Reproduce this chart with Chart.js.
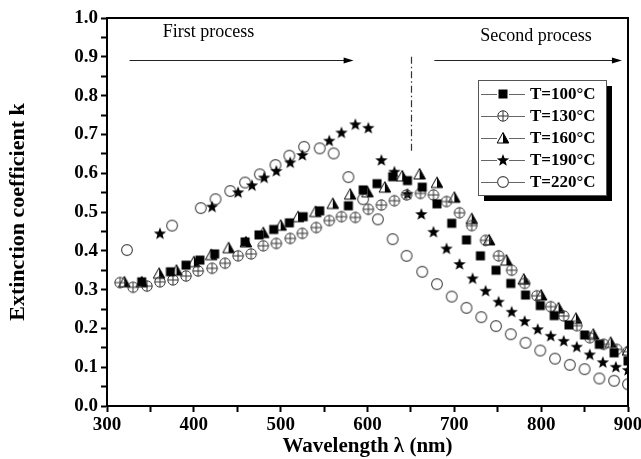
<!DOCTYPE html>
<html>
<head>
<meta charset="utf-8">
<script src="https://cdn.jsdelivr.net/npm/chart.js@4/dist/chart.umd.min.js"></script>
<style>
  html, body { margin: 0; padding: 0; background: #fff; }
</style>
</head>
<body>
<canvas id="kChart" width="641" height="459"></canvas>
<script>
// extinction coefficient k vs wavelength, one pair of arrays per annealing temperature
let wl100 = [340, 373, 391, 407, 424, 459, 475, 492, 510, 526, 545, 578, 595, 611, 629, 646, 663, 680, 697, 714, 730, 748, 765, 782, 799, 815, 832, 850, 867, 884, 900];
let k100  = [0.320, 0.346, 0.363, 0.376, 0.392, 0.423, 0.441, 0.455, 0.472, 0.488, 0.503, 0.516, 0.557, 0.573, 0.591, 0.581, 0.564, 0.521, 0.471, 0.428, 0.387, 0.350, 0.316, 0.286, 0.259, 0.233, 0.209, 0.183, 0.159, 0.137, 0.116];

let wl130 = [315, 330, 346, 361, 376, 391, 405, 421, 436, 451, 466, 480, 495, 511, 525, 541, 556, 570, 586, 601, 616, 631, 645, 661, 676, 691, 706, 720, 736, 751, 766, 781, 795, 811, 826, 841, 856, 872, 887, 900];
let k130  = [0.318, 0.306, 0.309, 0.320, 0.325, 0.335, 0.348, 0.355, 0.368, 0.387, 0.392, 0.413, 0.419, 0.432, 0.445, 0.460, 0.478, 0.488, 0.486, 0.507, 0.518, 0.529, 0.544, 0.548, 0.544, 0.527, 0.498, 0.465, 0.427, 0.387, 0.350, 0.316, 0.284, 0.256, 0.232, 0.207, 0.176, 0.159, 0.146, 0.140];

let wl160 = [320, 340, 360, 380, 400, 420, 440, 460, 480, 500, 520, 540, 560, 580, 600, 620, 640, 660, 680, 700, 720, 740, 760, 780, 800, 820, 840, 860, 880, 900];
let k160  = [0.320, 0.320, 0.342, 0.350, 0.372, 0.390, 0.408, 0.423, 0.447, 0.466, 0.488, 0.501, 0.522, 0.546, 0.552, 0.564, 0.593, 0.598, 0.576, 0.538, 0.483, 0.428, 0.376, 0.327, 0.286, 0.253, 0.226, 0.185, 0.164, 0.144];

let wl190 = [361, 421, 451, 467, 481, 495, 511, 525, 556, 570, 586, 601, 616, 631, 646, 662, 676, 691, 706, 721, 736, 751, 766, 781, 796, 811, 826, 841, 856, 871, 886, 900];
let k190  = [0.445, 0.514, 0.551, 0.569, 0.589, 0.606, 0.628, 0.647, 0.684, 0.705, 0.726, 0.717, 0.634, 0.604, 0.547, 0.495, 0.449, 0.406, 0.366, 0.329, 0.297, 0.269, 0.243, 0.219, 0.198, 0.181, 0.168, 0.153, 0.133, 0.113, 0.101, 0.093];

let wl220 = [323, 375, 408, 425, 442, 459, 476, 494, 510, 527, 545, 561, 578, 595, 612, 629, 645, 663, 680, 697, 714, 731, 748, 765, 782, 799, 816, 833, 850, 867, 884, 900];
let k220  = [0.402, 0.465, 0.510, 0.533, 0.554, 0.576, 0.597, 0.621, 0.645, 0.668, 0.664, 0.651, 0.590, 0.533, 0.481, 0.430, 0.387, 0.346, 0.314, 0.282, 0.253, 0.229, 0.206, 0.185, 0.163, 0.143, 0.122, 0.106, 0.095, 0.071, 0.065, 0.056];

let seriesNames = ["T=100°C", "T=130°C", "T=160°C", "T=190°C", "T=220°C"];
let processLabels = ["First process", "Second process"];
let xTitle = "Wavelength λ (nm)";
let yTitle = "Extinction coefficient k";

const SERIF = "'Liberation Serif', 'Times New Roman', serif";

// little canvases used as point markers
function marker(kind) {
  const c = document.createElement("canvas");
  c.width = 14; c.height = 14;
  const g = c.getContext("2d");
  const m = 7;
  g.lineWidth = 1;
  if (kind === "square") {
    g.fillStyle = "#000";
    g.fillRect(m - 4.5, m - 4.5, 9, 9);
  } else if (kind === "crossCircle") {
    g.strokeStyle = "#333";
    g.beginPath(); g.arc(m, m, 5.2, 0, Math.PI * 2); g.stroke();
    g.beginPath();
    g.moveTo(m - 5.2, m); g.lineTo(m + 5.2, m);
    g.moveTo(m, m - 5.2); g.lineTo(m, m + 5.2);
    g.stroke();
  } else if (kind === "halfTriangle") {
    g.fillStyle = "#000";
    g.beginPath(); g.moveTo(m, 1.5); g.lineTo(m, 12); g.lineTo(m + 5.8, 12); g.closePath(); g.fill();
    g.strokeStyle = "#000";
    g.beginPath(); g.moveTo(m, 1.5); g.lineTo(m - 5.8, 12); g.lineTo(m + 5.8, 12); g.closePath(); g.stroke();
  } else if (kind === "star") {
    g.fillStyle = "#000";
    g.beginPath();
    for (let i = 0; i < 10; i++) {
      const r = i % 2 === 0 ? 6.5 : 2.7;
      const a = -Math.PI / 2 + i * Math.PI / 5;
      g.lineTo(m + r * Math.cos(a), m + 0.5 + r * Math.sin(a));
    }
    g.closePath(); g.fill();
  } else {
    g.strokeStyle = "#444";
    g.lineWidth = 1.1;
    g.beginPath(); g.arc(m, m, 5.4, 0, Math.PI * 2); g.stroke();
  }
  return c;
}

const markers = [marker("square"), marker("crossCircle"), marker("halfTriangle"), marker("star"), marker("circle")];

function pts(xs, ys) {
  return xs.map((x, i) => ({ x: x, y: ys[i] }));
}

const allX = [wl100, wl130, wl160, wl190, wl220];
const allK = [k100, k130, k160, k190, k220];

const datasets = seriesNames.map((name, i) => ({
  label: name,
  data: pts(allX[i], allK[i]),
  pointStyle: markers[i],
  pointRadius: 6,
  showLine: false,
  clip: 0
}));

// frame, arrows, process labels, dash-dot divider and boxed legend
const decorations = {
  id: "decorations",
  afterDatasetsDraw(chart) {
    const ctx = chart.ctx;
    const a = chart.chartArea;
    const xs = chart.scales.x, ys = chart.scales.y;
    ctx.save();

    ctx.strokeStyle = "#000";
    ctx.lineWidth = 2;
    ctx.strokeRect(a.left, a.top, a.right - a.left, a.bottom - a.top);

    // process labels
    ctx.fillStyle = "#000";
    ctx.font = "18px " + SERIF;
    ctx.textAlign = "center";
    ctx.textBaseline = "middle";
    ctx.fillText(processLabels[0], xs.getPixelForValue(417), ys.getPixelForValue(0.963));
    ctx.fillText(processLabels[1], xs.getPixelForValue(794), ys.getPixelForValue(0.953));

    // arrows
    function arrow(x0, x1, k) {
      const y = Math.round(ys.getPixelForValue(k)) + 0.5;
      const p0 = xs.getPixelForValue(x0), p1 = xs.getPixelForValue(x1);
      ctx.strokeStyle = "#222";
      ctx.lineWidth = 1;
      ctx.beginPath(); ctx.moveTo(p0, y); ctx.lineTo(p1 - 8, y); ctx.stroke();
      ctx.fillStyle = "#000";
      ctx.beginPath(); ctx.moveTo(p1, y); ctx.lineTo(p1 - 10, y - 3); ctx.lineTo(p1 - 10, y + 3); ctx.closePath(); ctx.fill();
    }
    arrow(326, 584, 0.893);
    arrow(677, 893, 0.893);

    // dash-dot divider
    const dx = Math.round(xs.getPixelForValue(650)) + 0.5;
    ctx.strokeStyle = "#333";
    ctx.lineWidth = 1.2;
    ctx.setLineDash([7, 3, 1.5, 3]);
    ctx.beginPath();
    ctx.moveTo(dx, ys.getPixelForValue(0.9));
    ctx.lineTo(dx, ys.getPixelForValue(0.655));
    ctx.stroke();
    ctx.setLineDash([]);

    // legend box with drop shadow
    const bx = 478, by = 80, bw = 128, bh = 115;
    ctx.fillStyle = "#000";
    ctx.fillRect(bx + 6, by + 6, bw, bh);
    ctx.fillStyle = "#fff";
    ctx.fillRect(bx, by, bw, bh);
    ctx.strokeStyle = "#555";
    ctx.lineWidth = 1;
    ctx.strokeRect(bx + 0.5, by + 0.5, bw, bh);

    ctx.font = "bold 17px " + SERIF;
    ctx.textAlign = "left";
    seriesNames.forEach((name, i) => {
      const ry = by + 14 + i * 22;
      ctx.strokeStyle = "#666";
      ctx.lineWidth = 1;
      ctx.beginPath();
      ctx.moveTo(bx + 3, ry + 0.5); ctx.lineTo(bx + 47, ry + 0.5);
      ctx.stroke();
      ctx.fillStyle = "#fff";
      ctx.fillRect(bx + 19, ry - 6, 12, 12);
      ctx.drawImage(markers[i], bx + 25 - 7, ry - 7);
      ctx.fillStyle = "#000";
      ctx.fillText(name, bx + 52, ry + 1);
    });

    ctx.restore();
  }
};

new Chart(document.getElementById("kChart"), {
  type: "scatter",
  data: { datasets: datasets },
  plugins: [decorations],
  options: {
    responsive: false,
    animation: false,
    events: [],
    layout: { padding: { top: 18, right: 13, left: 0, bottom: 0 } },
    plugins: { legend: { display: false }, tooltip: { enabled: false } },
    scales: {
      x: {
        type: "linear",
        min: 300, max: 900,
        ticks: {
          stepSize: 50,
          autoSkip: false,
          maxRotation: 0,
          padding: 2,
          color: "#000",
          font: { family: SERIF, size: 19, weight: "bold" },
          callback: v => (v % 100 === 0 ? v : "")
        },
        grid: { drawOnChartArea: false, drawTicks: true, tickLength: 6, tickColor: "#000", tickWidth: 2 },
        border: { display: true, color: "#000", width: 2 },
        title: {
          display: true, text: xTitle, color: "#000",
          font: { family: SERIF, size: 21, weight: "bold" },
          padding: { top: 0, bottom: 0 }
        },
        afterFit: s => { s.height = 53; s.paddingLeft = 0; s.paddingRight = 0; }
      },
      y: {
        min: 0, max: 1,
        ticks: {
          stepSize: 0.05,
          autoSkip: false,
          padding: 3,
          color: "#000",
          font: { family: SERIF, size: 19, weight: "bold" },
          callback: v => (Math.round(v * 100) % 10 === 0 ? v.toFixed(1) : "")
        },
        grid: { drawOnChartArea: false, drawTicks: true, tickLength: 6, tickColor: "#000", tickWidth: 2 },
        border: { display: true, color: "#000", width: 2 },
        title: {
          display: true, text: yTitle, color: "#000",
          font: { family: SERIF, size: 22, weight: "bold" },
          padding: { top: 5, bottom: 0 }
        },
        afterFit: s => { s.width = 107; s.paddingTop = 0; s.paddingBottom = 0; }
      }
    }
  }
});
</script>
</body>
</html>
